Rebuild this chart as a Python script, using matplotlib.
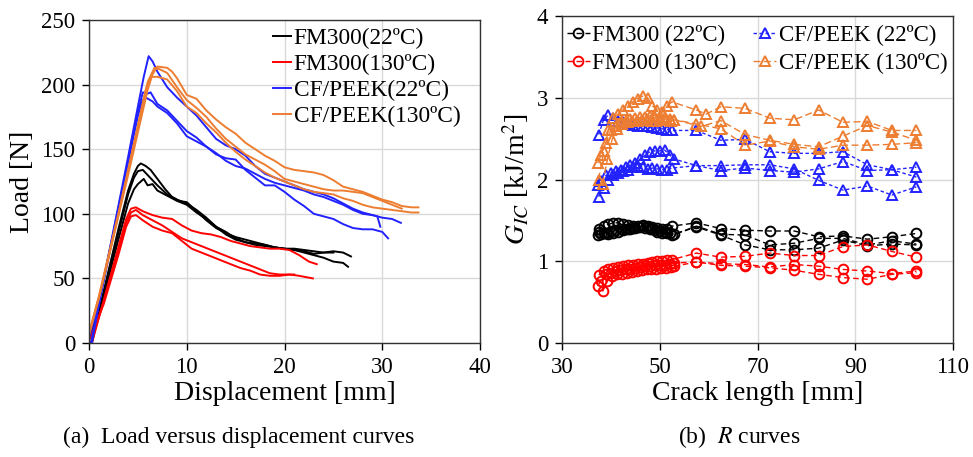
import matplotlib
matplotlib.use("Agg")
import matplotlib.pyplot as plt

plt.rcParams['font.family'] = ['Liberation Serif', 'DejaVu Serif']
plt.rcParams['mathtext.fontset'] = 'stix'

# ---- (a) load vs displacement: three specimens per case ----
fm22_a_x = [0.3, 1.5, 3.0, 4.0, 4.6, 5.0, 5.3, 5.8, 6.3, 7.0, 7.8, 8.5, 9.2, 10.0, 11.0, 12.0, 13.0, 14.0,
            15.0, 16.0, 17.0, 18.0, 19.0, 20.0, 21.0, 22.0, 23.0, 24.0, 25.0, 26.0, 26.8]
fm22_a_y = [0, 40, 88, 118, 131, 137, 139, 137, 134, 127, 119, 113, 110, 109, 102, 95, 89, 85,
            82, 80, 78, 76, 74, 73, 73, 72, 71, 70, 71, 70, 67]
fm22_b_x = [0.2, 1.5, 3.0, 4.0, 4.6, 5.0, 5.5, 6.0, 7.0, 8.0, 9.0, 10.0, 11.0, 12.0, 13.0, 14.0, 15.0,
            16.0, 17.0, 18.0, 19.0, 20.0, 21.0, 22.0, 23.0, 24.0, 25.0, 26.0, 26.5]
fm22_b_y = [0, 38, 85, 115, 128, 133, 134, 130, 122, 115, 111, 108, 103, 97, 90, 84, 80,
            78, 77, 76, 74, 73, 72, 70, 68, 66, 63, 62, 59]
fm22_c_x = [0.0, 1.5, 3.0, 4.0, 4.6, 5.0, 5.3, 5.6, 6.0, 6.5, 7.0, 8.0, 9.0, 10.0, 11.0, 12.0, 13.0,
            14.0, 15.0, 16.0, 17.0, 18.0, 19.0, 20.0, 21.0, 22.0, 23.0, 24.0, 25.0]
fm22_c_y = [3, 36, 80, 108, 119, 123, 125, 127, 122, 123, 118, 114, 110, 107, 101, 96, 90,
            86, 81, 78, 76, 75, 74, 73, 72, 71, 69, 70, 70]

fm130_a_x = [0.3, 1.5, 3.0, 3.8, 4.3, 4.8, 5.5, 6.5, 7.5, 8.5, 9.5, 10.5, 11.5, 12.5, 13.5, 14.5,
             15.5, 16.5, 17.5, 18.5, 19.5, 20.5, 21.5, 22.5, 23.3]
fm130_a_y = [0, 33, 74, 96, 104, 105, 102, 99, 97, 96, 91, 87, 85, 84, 82, 79,
             77, 75, 74, 73, 73, 72, 68, 63, 61]
fm130_b_x = [0.2, 1.5, 3.0, 3.8, 4.3, 4.8, 5.5, 6.5, 7.5, 8.5, 9.5, 10.5, 11.5, 12.5, 13.5, 14.5,
             15.5, 16.5, 17.5, 18.5, 19.5, 20.5, 21.5, 22.9]
fm130_b_y = [0, 32, 72, 93, 101, 103, 99, 95, 91, 86, 81, 78, 75, 72, 69, 66,
             63, 60, 57, 54, 53, 53, 52, 50]
fm130_c_x = [0.0, 1.5, 3.0, 3.8, 4.3, 4.8, 5.5, 6.5, 7.5, 8.5, 9.5, 10.5, 11.5, 12.5, 13.5, 14.5,
             15.5, 16.5, 17.5, 18.5, 19.5, 20.5, 21.0]
fm130_c_y = [2, 30, 68, 90, 98, 99, 95, 90, 87, 85, 79, 73, 70, 67, 64, 61,
             58, 56, 53, 52, 52, 53, 53]

peek22_a_x = [0.3, 1.0, 2.0, 3.0, 4.0, 5.0, 5.6, 6.1, 6.5, 7.0, 7.5, 8.0, 9.0, 10.0, 11.0, 12.0, 13.0,
              14.0, 15.0, 16.0, 17.0, 18.0, 19.0, 20.0, 21.0, 22.0, 23.0, 24.0, 25.0, 26.0, 27.0,
              28.0, 29.0, 30.0, 31.0, 31.9]
peek22_a_y = [0, 30, 68, 106, 144, 183, 206, 222, 218, 210, 204, 198, 190, 183, 176, 167, 158,
              153, 150, 145, 137, 131, 128, 125, 122, 119, 117, 115, 112, 108, 104,
              101, 99, 97, 96, 93]
peek22_b_x = [0.2, 1.0, 2.0, 3.0, 4.0, 5.0, 5.5, 6.0, 6.3, 7.0, 8.0, 9.0, 10.0, 11.0, 12.0, 13.0,
              14.0, 15.0, 16.0, 17.0, 18.0, 19.0, 20.0, 21.0, 22.0, 23.0, 24.0, 25.0, 26.0, 27.0,
              28.0, 29.0, 30.0, 30.6]
peek22_b_y = [0, 29, 66, 103, 140, 178, 194, 193, 194, 185, 180, 172, 164, 159, 152, 146,
              143, 142, 134, 128, 122, 122, 117, 111, 106, 100, 98, 96, 92, 89,
              88, 88, 86, 81]
peek22_c_x = [0.0, 1.0, 2.0, 3.0, 4.0, 5.0, 5.5, 5.8, 6.5, 7.0, 8.0, 9.0, 10.0, 11.0, 12.0, 13.0,
              14.0, 15.0, 16.0, 17.0, 18.0, 19.0, 20.0, 21.0, 22.0, 23.0, 24.0, 25.0, 26.0, 27.0,
              28.0, 29.0, 29.5, 29.8]
peek22_c_y = [4, 32, 68, 104, 140, 176, 188, 190, 187, 183, 178, 170, 160, 156, 152, 147,
              141, 137, 135, 131, 127, 124, 122, 120, 118, 115, 113, 110, 107, 103,
              100, 99, 98, 90]

peek130_a_x = [0.0, 1.0, 2.0, 3.0, 4.0, 5.0, 6.0, 6.5, 7.0, 8.0, 8.5, 9.0, 10.0, 11.0, 12.0, 13.0,
               14.0, 15.0, 16.0, 17.0, 18.0, 19.0, 20.0, 21.0, 22.0, 23.0, 24.0, 25.0, 26.0,
               27.0, 28.0, 29.0, 30.0, 31.0, 32.0, 33.0, 33.7]
peek130_a_y = [8, 35, 66, 98, 130, 163, 196, 208, 214, 213, 210, 205, 192, 189, 180, 173,
               167, 162, 155, 150, 145, 141, 136, 134, 133, 132, 130, 126, 121,
               119, 117, 114, 111, 109, 106, 105, 105]
peek130_b_x = [0.0, 1.0, 2.0, 3.0, 4.0, 5.0, 6.0, 6.7, 7.2, 8.0, 9.0, 10.0, 11.0, 12.0, 13.0,
               14.0, 15.0, 16.0, 17.0, 18.0, 19.0, 20.0, 21.0, 22.0, 23.0, 24.0, 25.0, 26.0,
               27.0, 28.0, 29.0, 30.0, 31.0, 32.0]
peek130_b_y = [6, 34, 66, 99, 133, 168, 202, 213, 212, 209, 198, 188, 182, 175, 166,
               158, 152, 146, 142, 138, 133, 127, 125, 123, 121, 119, 118, 118,
               117, 116, 113, 110, 107, 104]
peek130_c_x = [0.0, 1.0, 2.0, 3.0, 4.0, 5.0, 5.8, 6.3, 7.0, 7.5, 8.0, 9.0, 10.0, 11.0, 12.0,
               13.0, 14.0, 15.0, 16.0, 17.0, 18.0, 19.0, 20.0, 21.0, 22.0, 23.0, 24.0, 25.0,
               26.0, 27.0, 28.0, 29.0, 30.0, 31.0, 32.0, 33.0, 33.7]
peek130_c_y = [7, 36, 68, 100, 134, 168, 196, 206, 206, 205, 204, 195, 183, 178, 170,
               163, 155, 148, 142, 137, 132, 128, 125, 122, 119, 117, 116, 115,
               112, 110, 107, 105, 104, 103, 102, 101, 101]

# ---- (b) R curves ----
crack_dense_a = [37.5, 38.5, 39.5, 40.5, 41.5, 42.5, 43.5, 44.5, 45.5, 46.5, 47.5, 48.5, 49.5, 50.5, 51.5, 52.5]
crack_dense_b = [37.3, 38.0, 39.0, 40.0, 41.0, 42.0, 43.0, 44.0, 45.0, 46.0, 47.0, 48.0, 49.0, 50.0, 51.0, 52.0, 53.0]
crack_dense_c = [38.3, 39.3, 40.3, 41.3, 42.3, 43.3, 44.3, 45.3, 46.3, 47.3, 48.3, 49.3, 50.3, 51.3, 52.3, 53.0]
crack_tail = [57.5, 62.5, 67.5, 72.5, 77.5, 82.5, 87.5, 92.5, 97.5, 102.5]
crack_tail_o = [57.5, 59.5, 62.5, 67.5, 72.5, 77.5, 82.5, 87.5, 92.5, 97.5, 102.5]
crack_tail_o2 = [58.5, 62.5, 67.5, 72.5, 77.5, 82.5, 87.5, 92.5, 97.5, 102.5]

g_fm22_a = [1.40, 1.43, 1.45, 1.47, 1.47, 1.45, 1.44, 1.43, 1.43, 1.44, 1.43, 1.42, 1.41, 1.40, 1.39, 1.43,
            1.47, 1.40, 1.38, 1.37, 1.37, 1.30, 1.31, 1.27, 1.30, 1.34]
g_fm22_b = [1.32, 1.33, 1.35, 1.37, 1.38, 1.39, 1.40, 1.40, 1.41, 1.42, 1.41, 1.40, 1.38, 1.37, 1.36, 1.34, 1.33,
            1.43, 1.33, 1.32, 1.20, 1.22, 1.28, 1.28, 1.20, 1.25, 1.21]
g_fm22_c = [1.36, 1.35, 1.33, 1.34, 1.36, 1.38, 1.40, 1.41, 1.42, 1.43, 1.42, 1.40, 1.36, 1.35, 1.35, 1.32,
            1.42, 1.32, 1.20, 1.14, 1.14, 1.16, 1.26, 1.19, 1.21, 1.20]

g_fm130_a = [0.83, 0.88, 0.90, 0.92, 0.93, 0.94, 0.95, 0.96, 0.97, 0.97, 0.98, 0.99, 1.00, 1.00, 1.01, 1.02,
             1.10, 1.05, 1.06, 1.10, 1.07, 1.07, 1.18, 1.20, 1.12, 1.05]
g_fm130_b = [0.70, 0.76, 0.84, 0.86, 0.88, 0.89, 0.90, 0.91, 0.92, 0.93, 0.94, 0.94, 0.95, 0.96, 0.96, 0.97, 0.98,
             0.99, 0.97, 0.96, 0.93, 0.96, 0.94, 0.90, 0.88, 0.85, 0.88]
g_fm130_c = [0.63, 0.76, 0.82, 0.84, 0.85, 0.86, 0.87, 0.88, 0.89, 0.90, 0.91, 0.91, 0.92, 0.92, 0.93, 0.94,
             0.99, 0.95, 0.94, 0.92, 0.89, 0.84, 0.80, 0.78, 0.84, 0.86]

g_peek22_a = [2.55, 2.73, 2.79, 2.75, 2.72, 2.70, 2.68, 2.67, 2.66, 2.65, 2.65, 2.64, 2.63, 2.62, 2.61, 2.60,
              2.60, 2.48, 2.49, 2.34, 2.32, 2.32, 2.34, 2.18, 2.12, 2.15]
g_peek22_b = [1.93, 1.98, 2.05, 2.08, 2.10, 2.12, 2.15, 2.18, 2.20, 2.25, 2.30, 2.34, 2.35, 2.35, 2.36, 2.30, 2.25,
              2.17, 2.17, 2.18, 2.18, 2.13, 1.99, 1.87, 1.92, 1.81, 1.91]
g_peek22_c = [1.79, 1.90, 2.00, 2.05, 2.08, 2.10, 2.12, 2.15, 2.17, 2.15, 2.13, 2.14, 2.13, 2.12, 2.12, 2.14,
              2.17, 2.11, 2.14, 2.11, 2.09, 2.13, 2.22, 2.11, 2.12, 2.03]

g_peek130_a = [2.00, 2.35, 2.60, 2.75, 2.80, 2.85, 2.90, 2.95, 2.99, 3.02, 3.00, 2.90, 2.85, 2.82, 2.90, 2.95,
               2.85, 2.80, 2.89, 2.87, 2.75, 2.73, 2.85, 2.70, 2.71, 2.60, 2.60]
g_peek130_b = [2.20, 2.30, 2.45, 2.60, 2.65, 2.70, 2.72, 2.74, 2.75, 2.76, 2.77, 2.78, 2.76, 2.75, 2.76, 2.74, 2.73,
               2.65, 2.72, 2.55, 2.48, 2.43, 2.40, 2.53, 2.66, 2.58, 2.48]
g_peek130_c = [1.95, 2.25, 2.50, 2.62, 2.68, 2.70, 2.72, 2.72, 2.73, 2.74, 2.72, 2.72, 2.73, 2.74, 2.72, 2.73,
               2.68, 2.62, 2.42, 2.47, 2.40, 2.37, 2.42, 2.42, 2.43, 2.45]

labels_a = ['FM300(22ºC)', 'FM300(130ºC)', 'CF/PEEK(22ºC)', 'CF/PEEK(130ºC)']
labels_b = ['FM300 (22ºC)', 'FM300 (130ºC)', 'CF/PEEK (22ºC)', 'CF/PEEK (130ºC)']
colors = ['#000000', '#ff0000', '#2222ff', '#ed7d31']

fig = plt.figure(figsize=(9.73, 4.57), dpi=100)
ax1 = fig.add_axes([89 / 973, 1 - 343 / 457, 391 / 973, 323 / 457])
ax2 = fig.add_axes([562 / 973, 1 - 343 / 457, 391 / 973, 327 / 457])

curves_a = [
    [(fm22_a_x, fm22_a_y), (fm22_b_x, fm22_b_y), (fm22_c_x, fm22_c_y)],
    [(fm130_a_x, fm130_a_y), (fm130_b_x, fm130_b_y), (fm130_c_x, fm130_c_y)],
    [(peek22_a_x, peek22_a_y), (peek22_b_x, peek22_b_y), (peek22_c_x, peek22_c_y)],
    [(peek130_a_x, peek130_a_y), (peek130_b_x, peek130_b_y), (peek130_c_x, peek130_c_y)],
]
for group, col, lab in zip(curves_a, colors, labels_a):
    for i, (x, y) in enumerate(group):
        ax1.plot(x, y, color=col, lw=1.4, label=lab if i == 0 else None)

ax1.set_xlim(0, 40)
ax1.set_ylim(0, 250)
ax1.set_xticks([0, 10, 20, 30, 40])
ax1.set_yticks([0, 50, 100, 150, 200, 250])
ax1.set_xlabel('Displacement [mm]', fontsize=20, labelpad=2)
ax1.set_ylabel('Load [N]', fontsize=20, labelpad=4)
ax1.legend(loc='upper left', bbox_to_anchor=(0.47, 0.975), frameon=False, fontsize=16.8,
           handlelength=0.8, handletextpad=0.1, labelspacing=0.2, borderpad=0, borderaxespad=0)

curves_b = [
    [(crack_dense_a + crack_tail, g_fm22_a), (crack_dense_b + crack_tail, g_fm22_b),
     (crack_dense_a + crack_tail, g_fm22_c)],
    [(crack_dense_a + crack_tail, g_fm130_a), (crack_dense_b + crack_tail, g_fm130_b),
     (crack_dense_c + crack_tail, g_fm130_c)],
    [(crack_dense_a + crack_tail, g_peek22_a), (crack_dense_b + crack_tail, g_peek22_b),
     (crack_dense_a + crack_tail, g_peek22_c)],
    [(crack_dense_a + crack_tail_o, g_peek130_a), (crack_dense_b + crack_tail_o2, g_peek130_b),
     (crack_dense_c + crack_tail, g_peek130_c)],
]
markers = ['o', 'o', '^', '^']
dashes = [(4, 2.5), (4, 2.5), (2.5, 1.8), (5, 2.5)]
for group, col, lab, mk, ds in zip(curves_b, colors, labels_b, markers, dashes):
    for i, (x, y) in enumerate(group):
        ax2.plot(x, y, color=col, lw=1.0, linestyle=(0, ds), marker=mk, markersize=7,
                 markerfacecolor='none', markeredgewidth=1.4, label=lab if i == 0 else None)

ax2.set_xlim(30, 110)
ax2.set_ylim(0, 4)
ax2.set_xticks([30, 50, 70, 90, 110])
ax2.set_yticks([0, 1, 2, 3, 4])
ax2.set_xlabel('Crack length [mm]', fontsize=20, labelpad=2)
ax2.set_ylabel(r'$G_{IC}$ [kJ/m$^2$]', fontsize=20, labelpad=4)
handles, labs = ax2.get_legend_handles_labels()
ax2.legend(handles, labs, ncol=2, loc='upper left', bbox_to_anchor=(0.012, 0.972), frameon=False,
           fontsize=16.5, handlelength=1.0, handletextpad=0.1, columnspacing=0.75,
           labelspacing=0.3, borderpad=0, borderaxespad=0)

for ax in (ax1, ax2):
    ax.grid(True, color='#d9d9d9', lw=1)
    ax.set_axisbelow(True)
    ax.tick_params(labelsize=16.5, direction='out', length=5, width=1, pad=5)
    for sp in ax.spines.values():
        sp.set_color('#333333')
        sp.set_linewidth(1)

fig.text(239 / 973, 1 - 437 / 457, '(a)  Load versus displacement curves', ha='center', va='center', fontsize=17)
fig.text(739 / 973, 1 - 437 / 457, r'(b)  $R$ curves', ha='center', va='center', fontsize=17)

fig.savefig('out.png', dpi=100)
